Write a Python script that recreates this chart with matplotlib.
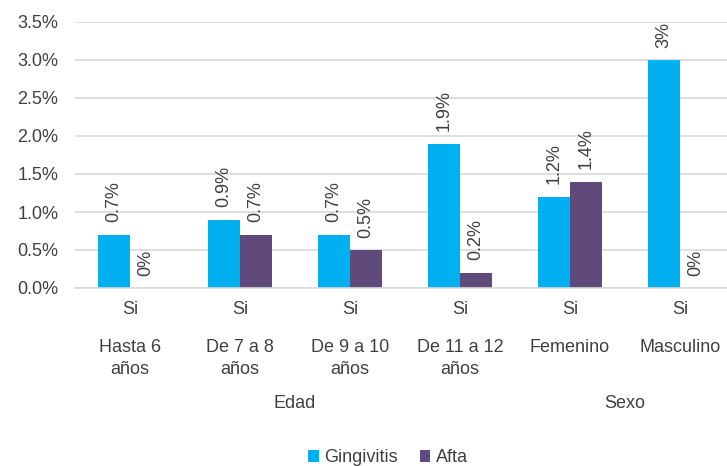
import matplotlib.pyplot as plt
import matplotlib.transforms as mtransforms
from matplotlib.ticker import FuncFormatter
import numpy as np

plt.rcParams['font.family'] = ['Liberation Sans', 'DejaVu Sans']

# data
si_labels = ["Si", "Si", "Si", "Si", "Si", "Si"]
subgroups = ["Hasta 6\naños", "De 7 a 8\naños", "De 9 a 10\naños", "De 11 a 12\naños",
             "Femenino", "Masculino"]
groups = ["Edad", "Sexo"]
group_spans = [(0, 3), (4, 5)]
gingivitis = [0.7, 0.9, 0.7, 1.9, 1.2, 3.0]
afta = [0.0, 0.7, 0.5, 0.2, 1.4, 0.0]

c_ging = '#00B0F0'
c_afta = '#604A7B'
txt = '#404040'
fs = 13

fig = plt.figure(figsize=(7.27, 4.66), dpi=100)
# plot area runs a little past the right edge of the figure
ax = fig.add_axes([75 / 727, 1 - 288 / 466, 660 / 727, 266 / 466])

x = np.arange(len(subgroups))
w = 0.29
b1 = ax.bar(x - w / 2, gingivitis, w, color=c_ging, label='Gingivitis', zorder=3)
b2 = ax.bar(x + w / 2, afta, w, color=c_afta, label='Afta', zorder=3)

for bars, vals in [(b1, gingivitis), (b2, afta)]:
    for rect, v in zip(bars, vals):
        ax.annotate(f"{v:g}%", (rect.get_x() + rect.get_width() / 2, v),
                    xytext=(0, 9), textcoords='offset points', rotation=90,
                    ha='center', va='bottom', fontsize=fs, color=txt)

ax.set_xlim(-0.5, len(subgroups) - 0.5)
ax.set_ylim(0, 3.5)
ax.set_yticks(np.arange(0, 3.51, 0.5))
ax.yaxis.set_major_formatter(FuncFormatter(lambda v, p: f"{v:.1f}%"))
ax.tick_params(axis='y', length=0, labelsize=fs, labelcolor=txt, pad=12)
ax.set_xticks([])
ax.grid(axis='y', color='#d9d9d9', linewidth=1.2, zorder=0)
for s in ['top', 'right', 'left']:
    ax.spines[s].set_visible(False)
ax.spines['bottom'].set_color('#d9d9d9')
ax.spines['bottom'].set_linewidth(1.2)
ax.spines['bottom'].set_zorder(4)

# multi-level category labels
tr = mtransforms.blended_transform_factory(ax.transData, fig.transFigure)
for i in x:
    ax.text(i, 1 - 310 / 466, si_labels[i], transform=tr, ha='center', va='center',
            fontsize=fs, color=txt)
    ax.text(i, 1 - 339 / 466, subgroups[i], transform=tr, ha='center', va='top',
            fontsize=fs, color=txt, linespacing=1.35)
for name, (a, b) in zip(groups, group_spans):
    ax.text((a + b) / 2, 1 - 404 / 466, name, transform=tr, ha='center', va='center',
            fontsize=fs, color=txt)

fig.legend(handles=[b1, b2], loc='center', bbox_to_anchor=(388 / 727, 1 - 458 / 466),
           ncol=2, frameon=False, fontsize=fs, handlelength=0.6, handleheight=0.6,
           handletextpad=0.3, columnspacing=1.2, labelcolor=txt)

fig.savefig('out.png', dpi=100)
